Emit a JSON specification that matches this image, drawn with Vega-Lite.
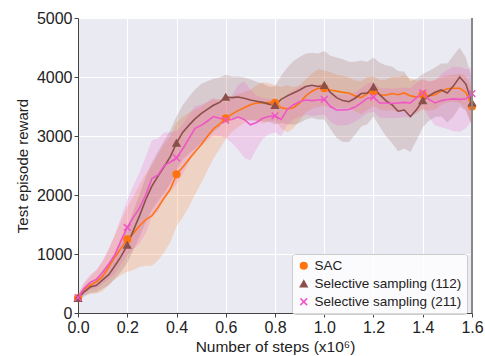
{
"$schema": "https://vega.github.io/schema/vega-lite/v6.json",
"width": 394, "height": 295,
"autosize": {"type": "none"},
"padding": {"left": 78, "top": 18, "right": 13, "bottom": 43},
"title": {"text": "(b)", "fontSize": 17, "font": "Liberation Sans", "fontWeight": "normal", "offset": 9, "color": "#222222", "anchor": "middle"},
"config": {
  "view": {"fill": "#EAEAF2", "stroke": null},
  "font": "Liberation Sans",
  "axis": {"gridColor": "#ffffff", "gridWidth": 1, "gridOpacity": 1, "domainColor": "#444444", "tickColor": "#444444", "tickSize": 4, "labelFontSize": 16, "labelColor": "#222222", "titleFontSize": 15, "titleFontWeight": "normal", "titleColor": "#222222", "labelFont": "Liberation Sans", "titleFont": "Liberation Sans"}
},
"data": {"values": [
{"x":0,"series":"SAC","reward":250,"lo":190,"hi":310},
{"x":0.025,"series":"SAC","reward":400,"lo":300,"hi":500},
{"x":0.05,"series":"SAC","reward":470,"lo":320,"hi":620},
{"x":0.075,"series":"SAC","reward":530,"lo":330,"hi":730},
{"x":0.1,"series":"SAC","reward":620,"lo":370,"hi":870},
{"x":0.125,"series":"SAC","reward":780,"lo":480,"hi":1080},
{"x":0.15,"series":"SAC","reward":950,"lo":570,"hi":1330},
{"x":0.175,"series":"SAC","reward":1100,"lo":650,"hi":1550},
{"x":0.2,"series":"SAC","reward":1250,"lo":700,"hi":1800},
{"x":0.225,"series":"SAC","reward":1350,"lo":730,"hi":1970},
{"x":0.25,"series":"SAC","reward":1480,"lo":780,"hi":2180},
{"x":0.275,"series":"SAC","reward":1580,"lo":800,"hi":2360},
{"x":0.3,"series":"SAC","reward":1650,"lo":800,"hi":2500},
{"x":0.325,"series":"SAC","reward":1790,"lo":890,"hi":2690},
{"x":0.35,"series":"SAC","reward":1950,"lo":1030,"hi":2870},
{"x":0.375,"series":"SAC","reward":2100,"lo":1200,"hi":3000},
{"x":0.4,"series":"SAC","reward":2350,"lo":1470,"hi":3230},
{"x":0.425,"series":"SAC","reward":2470,"lo":1620,"hi":3320},
{"x":0.45,"series":"SAC","reward":2600,"lo":1800,"hi":3400},
{"x":0.475,"series":"SAC","reward":2730,"lo":2010,"hi":3450},
{"x":0.5,"series":"SAC","reward":2850,"lo":2200,"hi":3500},
{"x":0.525,"series":"SAC","reward":2990,"lo":2410,"hi":3570},
{"x":0.55,"series":"SAC","reward":3120,"lo":2620,"hi":3620},
{"x":0.575,"series":"SAC","reward":3200,"lo":2780,"hi":3620},
{"x":0.6,"series":"SAC","reward":3300,"lo":2950,"hi":3650},
{"x":0.625,"series":"SAC","reward":3370,"lo":3070,"hi":3670},
{"x":0.65,"series":"SAC","reward":3430,"lo":3150,"hi":3710},
{"x":0.675,"series":"SAC","reward":3480,"lo":3220,"hi":3740},
{"x":0.7,"series":"SAC","reward":3530,"lo":3280,"hi":3780},
{"x":0.725,"series":"SAC","reward":3560,"lo":3260,"hi":3860},
{"x":0.75,"series":"SAC","reward":3560,"lo":3210,"hi":3910},
{"x":0.775,"series":"SAC","reward":3570,"lo":3240,"hi":3900},
{"x":0.8,"series":"SAC","reward":3560,"lo":3260,"hi":3860},
{"x":0.825,"series":"SAC","reward":3480,"lo":3130,"hi":3830},
{"x":0.85,"series":"SAC","reward":3460,"lo":3060,"hi":3860},
{"x":0.875,"series":"SAC","reward":3480,"lo":3130,"hi":3830},
{"x":0.9,"series":"SAC","reward":3560,"lo":3260,"hi":3860},
{"x":0.925,"series":"SAC","reward":3680,"lo":3400,"hi":3960},
{"x":0.95,"series":"SAC","reward":3760,"lo":3460,"hi":4060},
{"x":0.975,"series":"SAC","reward":3810,"lo":3490,"hi":4130},
{"x":1.0,"series":"SAC","reward":3810,"lo":3510,"hi":4110},
{"x":1.025,"series":"SAC","reward":3780,"lo":3480,"hi":4080},
{"x":1.05,"series":"SAC","reward":3760,"lo":3480,"hi":4040},
{"x":1.075,"series":"SAC","reward":3740,"lo":3460,"hi":4020},
{"x":1.1,"series":"SAC","reward":3730,"lo":3470,"hi":3990},
{"x":1.125,"series":"SAC","reward":3680,"lo":3420,"hi":3940},
{"x":1.15,"series":"SAC","reward":3650,"lo":3370,"hi":3930},
{"x":1.175,"series":"SAC","reward":3720,"lo":3440,"hi":4000},
{"x":1.2,"series":"SAC","reward":3760,"lo":3510,"hi":4010},
{"x":1.225,"series":"SAC","reward":3700,"lo":3450,"hi":3950},
{"x":1.25,"series":"SAC","reward":3690,"lo":3430,"hi":3950},
{"x":1.275,"series":"SAC","reward":3720,"lo":3440,"hi":4000},
{"x":1.3,"series":"SAC","reward":3700,"lo":3400,"hi":4000},
{"x":1.325,"series":"SAC","reward":3730,"lo":3430,"hi":4030},
{"x":1.35,"series":"SAC","reward":3680,"lo":3380,"hi":3980},
{"x":1.375,"series":"SAC","reward":3660,"lo":3380,"hi":3940},
{"x":1.4,"series":"SAC","reward":3700,"lo":3450,"hi":3950},
{"x":1.425,"series":"SAC","reward":3680,"lo":3430,"hi":3930},
{"x":1.45,"series":"SAC","reward":3700,"lo":3450,"hi":3950},
{"x":1.475,"series":"SAC","reward":3760,"lo":3530,"hi":3990},
{"x":1.5,"series":"SAC","reward":3800,"lo":3570,"hi":4030},
{"x":1.525,"series":"SAC","reward":3810,"lo":3580,"hi":4040},
{"x":1.55,"series":"SAC","reward":3810,"lo":3560,"hi":4060},
{"x":1.575,"series":"SAC","reward":3740,"lo":3460,"hi":4020},
{"x":1.6,"series":"SAC","reward":3500,"lo":3200,"hi":3800},
{"x":0,"series":"Selective sampling (112)","reward":250,"lo":190,"hi":310},
{"x":0.025,"series":"Selective sampling (112)","reward":360,"lo":280,"hi":440},
{"x":0.05,"series":"Selective sampling (112)","reward":440,"lo":340,"hi":540},
{"x":0.075,"series":"Selective sampling (112)","reward":470,"lo":350,"hi":590},
{"x":0.1,"series":"Selective sampling (112)","reward":560,"lo":410,"hi":710},
{"x":0.125,"series":"Selective sampling (112)","reward":650,"lo":470,"hi":830},
{"x":0.15,"series":"Selective sampling (112)","reward":800,"lo":580,"hi":1020},
{"x":0.175,"series":"Selective sampling (112)","reward":960,"lo":700,"hi":1220},
{"x":0.2,"series":"Selective sampling (112)","reward":1150,"lo":850,"hi":1450},
{"x":0.225,"series":"Selective sampling (112)","reward":1400,"lo":1070,"hi":1730},
{"x":0.25,"series":"Selective sampling (112)","reward":1650,"lo":1290,"hi":2010},
{"x":0.275,"series":"Selective sampling (112)","reward":1920,"lo":1540,"hi":2300},
{"x":0.3,"series":"Selective sampling (112)","reward":2150,"lo":1750,"hi":2550},
{"x":0.325,"series":"Selective sampling (112)","reward":2320,"lo":1900,"hi":2740},
{"x":0.35,"series":"Selective sampling (112)","reward":2480,"lo":2040,"hi":2920},
{"x":0.375,"series":"Selective sampling (112)","reward":2650,"lo":2200,"hi":3100},
{"x":0.4,"series":"Selective sampling (112)","reward":2880,"lo":2430,"hi":3330},
{"x":0.425,"series":"Selective sampling (112)","reward":3060,"lo":2600,"hi":3520},
{"x":0.45,"series":"Selective sampling (112)","reward":3180,"lo":2700,"hi":3660},
{"x":0.475,"series":"Selective sampling (112)","reward":3290,"lo":2790,"hi":3790},
{"x":0.5,"series":"Selective sampling (112)","reward":3380,"lo":2880,"hi":3880},
{"x":0.525,"series":"Selective sampling (112)","reward":3450,"lo":2970,"hi":3930},
{"x":0.55,"series":"Selective sampling (112)","reward":3520,"lo":3070,"hi":3970},
{"x":0.575,"series":"Selective sampling (112)","reward":3570,"lo":3150,"hi":3990},
{"x":0.6,"series":"Selective sampling (112)","reward":3660,"lo":3280,"hi":4040},
{"x":0.625,"series":"Selective sampling (112)","reward":3650,"lo":3290,"hi":4010},
{"x":0.65,"series":"Selective sampling (112)","reward":3660,"lo":3310,"hi":4010},
{"x":0.675,"series":"Selective sampling (112)","reward":3640,"lo":3290,"hi":3990},
{"x":0.7,"series":"Selective sampling (112)","reward":3610,"lo":3260,"hi":3960},
{"x":0.725,"series":"Selective sampling (112)","reward":3590,"lo":3260,"hi":3920},
{"x":0.75,"series":"Selective sampling (112)","reward":3570,"lo":3250,"hi":3890},
{"x":0.775,"series":"Selective sampling (112)","reward":3540,"lo":3240,"hi":3840},
{"x":0.8,"series":"Selective sampling (112)","reward":3520,"lo":3200,"hi":3840},
{"x":0.825,"series":"Selective sampling (112)","reward":3620,"lo":3220,"hi":4020},
{"x":0.85,"series":"Selective sampling (112)","reward":3680,"lo":3200,"hi":4160},
{"x":0.875,"series":"Selective sampling (112)","reward":3730,"lo":3190,"hi":4270},
{"x":0.9,"series":"Selective sampling (112)","reward":3780,"lo":3220,"hi":4340},
{"x":0.925,"series":"Selective sampling (112)","reward":3840,"lo":3280,"hi":4400},
{"x":0.95,"series":"Selective sampling (112)","reward":3860,"lo":3310,"hi":4410},
{"x":0.975,"series":"Selective sampling (112)","reward":3840,"lo":3280,"hi":4400},
{"x":1.0,"series":"Selective sampling (112)","reward":3860,"lo":3280,"hi":4440},
{"x":1.025,"series":"Selective sampling (112)","reward":3740,"lo":3120,"hi":4360},
{"x":1.05,"series":"Selective sampling (112)","reward":3650,"lo":2970,"hi":4330},
{"x":1.075,"series":"Selective sampling (112)","reward":3600,"lo":2900,"hi":4300},
{"x":1.1,"series":"Selective sampling (112)","reward":3580,"lo":2900,"hi":4260},
{"x":1.125,"series":"Selective sampling (112)","reward":3640,"lo":3020,"hi":4260},
{"x":1.15,"series":"Selective sampling (112)","reward":3720,"lo":3160,"hi":4280},
{"x":1.175,"series":"Selective sampling (112)","reward":3730,"lo":3200,"hi":4260},
{"x":1.2,"series":"Selective sampling (112)","reward":3830,"lo":3330,"hi":4330},
{"x":1.225,"series":"Selective sampling (112)","reward":3700,"lo":3160,"hi":4240},
{"x":1.25,"series":"Selective sampling (112)","reward":3600,"lo":3000,"hi":4200},
{"x":1.275,"series":"Selective sampling (112)","reward":3530,"lo":2880,"hi":4180},
{"x":1.3,"series":"Selective sampling (112)","reward":3420,"lo":2740,"hi":4100},
{"x":1.325,"series":"Selective sampling (112)","reward":3440,"lo":2790,"hi":4090},
{"x":1.35,"series":"Selective sampling (112)","reward":3330,"lo":2730,"hi":3930},
{"x":1.375,"series":"Selective sampling (112)","reward":3450,"lo":2930,"hi":3970},
{"x":1.4,"series":"Selective sampling (112)","reward":3600,"lo":3150,"hi":4050},
{"x":1.425,"series":"Selective sampling (112)","reward":3680,"lo":3260,"hi":4100},
{"x":1.45,"series":"Selective sampling (112)","reward":3740,"lo":3320,"hi":4160},
{"x":1.475,"series":"Selective sampling (112)","reward":3780,"lo":3330,"hi":4230},
{"x":1.5,"series":"Selective sampling (112)","reward":3730,"lo":3230,"hi":4230},
{"x":1.525,"series":"Selective sampling (112)","reward":3850,"lo":3330,"hi":4370},
{"x":1.55,"series":"Selective sampling (112)","reward":4000,"lo":3500,"hi":4500},
{"x":1.575,"series":"Selective sampling (112)","reward":3880,"lo":3430,"hi":4330},
{"x":1.6,"series":"Selective sampling (112)","reward":3560,"lo":3160,"hi":3960},
{"x":0,"series":"Selective sampling (211)","reward":260,"lo":200,"hi":320},
{"x":0.025,"series":"Selective sampling (211)","reward":420,"lo":320,"hi":520},
{"x":0.05,"series":"Selective sampling (211)","reward":520,"lo":390,"hi":650},
{"x":0.075,"series":"Selective sampling (211)","reward":570,"lo":410,"hi":730},
{"x":0.1,"series":"Selective sampling (211)","reward":690,"lo":490,"hi":890},
{"x":0.125,"series":"Selective sampling (211)","reward":830,"lo":570,"hi":1090},
{"x":0.15,"series":"Selective sampling (211)","reward":990,"lo":660,"hi":1320},
{"x":0.175,"series":"Selective sampling (211)","reward":1230,"lo":830,"hi":1630},
{"x":0.2,"series":"Selective sampling (211)","reward":1450,"lo":980,"hi":1920},
{"x":0.225,"series":"Selective sampling (211)","reward":1620,"lo":1080,"hi":2160},
{"x":0.25,"series":"Selective sampling (211)","reward":1780,"lo":1180,"hi":2380},
{"x":0.275,"series":"Selective sampling (211)","reward":2000,"lo":1350,"hi":2650},
{"x":0.3,"series":"Selective sampling (211)","reward":2280,"lo":1630,"hi":2930},
{"x":0.325,"series":"Selective sampling (211)","reward":2340,"lo":1720,"hi":2960},
{"x":0.35,"series":"Selective sampling (211)","reward":2500,"lo":1940,"hi":3060},
{"x":0.375,"series":"Selective sampling (211)","reward":2560,"lo":2060,"hi":3060},
{"x":0.4,"series":"Selective sampling (211)","reward":2630,"lo":2180,"hi":3080},
{"x":0.425,"series":"Selective sampling (211)","reward":2780,"lo":2360,"hi":3200},
{"x":0.45,"series":"Selective sampling (211)","reward":2950,"lo":2550,"hi":3350},
{"x":0.475,"series":"Selective sampling (211)","reward":3130,"lo":2750,"hi":3510},
{"x":0.5,"series":"Selective sampling (211)","reward":3180,"lo":2830,"hi":3530},
{"x":0.525,"series":"Selective sampling (211)","reward":3250,"lo":2920,"hi":3580},
{"x":0.55,"series":"Selective sampling (211)","reward":3330,"lo":3010,"hi":3650},
{"x":0.575,"series":"Selective sampling (211)","reward":3300,"lo":3000,"hi":3600},
{"x":0.6,"series":"Selective sampling (211)","reward":3270,"lo":2970,"hi":3570},
{"x":0.625,"series":"Selective sampling (211)","reward":3280,"lo":2880,"hi":3680},
{"x":0.65,"series":"Selective sampling (211)","reward":3320,"lo":2770,"hi":3870},
{"x":0.675,"series":"Selective sampling (211)","reward":3280,"lo":2630,"hi":3930},
{"x":0.7,"series":"Selective sampling (211)","reward":3190,"lo":2590,"hi":3790},
{"x":0.725,"series":"Selective sampling (211)","reward":3230,"lo":2780,"hi":3680},
{"x":0.75,"series":"Selective sampling (211)","reward":3300,"lo":2950,"hi":3650},
{"x":0.775,"series":"Selective sampling (211)","reward":3330,"lo":3030,"hi":3630},
{"x":0.8,"series":"Selective sampling (211)","reward":3340,"lo":3060,"hi":3620},
{"x":0.825,"series":"Selective sampling (211)","reward":3280,"lo":3000,"hi":3560},
{"x":0.85,"series":"Selective sampling (211)","reward":3450,"lo":3190,"hi":3710},
{"x":0.875,"series":"Selective sampling (211)","reward":3530,"lo":3280,"hi":3780},
{"x":0.9,"series":"Selective sampling (211)","reward":3580,"lo":3330,"hi":3830},
{"x":0.925,"series":"Selective sampling (211)","reward":3610,"lo":3360,"hi":3860},
{"x":0.95,"series":"Selective sampling (211)","reward":3600,"lo":3340,"hi":3860},
{"x":0.975,"series":"Selective sampling (211)","reward":3610,"lo":3350,"hi":3870},
{"x":1.0,"series":"Selective sampling (211)","reward":3620,"lo":3360,"hi":3880},
{"x":1.025,"series":"Selective sampling (211)","reward":3500,"lo":3240,"hi":3760},
{"x":1.05,"series":"Selective sampling (211)","reward":3440,"lo":3180,"hi":3700},
{"x":1.075,"series":"Selective sampling (211)","reward":3440,"lo":3180,"hi":3700},
{"x":1.1,"series":"Selective sampling (211)","reward":3450,"lo":3190,"hi":3710},
{"x":1.125,"series":"Selective sampling (211)","reward":3490,"lo":3240,"hi":3740},
{"x":1.15,"series":"Selective sampling (211)","reward":3560,"lo":3310,"hi":3810},
{"x":1.175,"series":"Selective sampling (211)","reward":3640,"lo":3390,"hi":3890},
{"x":1.2,"series":"Selective sampling (211)","reward":3660,"lo":3410,"hi":3910},
{"x":1.225,"series":"Selective sampling (211)","reward":3560,"lo":3310,"hi":3810},
{"x":1.25,"series":"Selective sampling (211)","reward":3560,"lo":3310,"hi":3810},
{"x":1.275,"series":"Selective sampling (211)","reward":3550,"lo":3300,"hi":3800},
{"x":1.3,"series":"Selective sampling (211)","reward":3560,"lo":3310,"hi":3810},
{"x":1.325,"series":"Selective sampling (211)","reward":3570,"lo":3320,"hi":3820},
{"x":1.35,"series":"Selective sampling (211)","reward":3560,"lo":3310,"hi":3810},
{"x":1.375,"series":"Selective sampling (211)","reward":3650,"lo":3400,"hi":3900},
{"x":1.4,"series":"Selective sampling (211)","reward":3730,"lo":3480,"hi":3980},
{"x":1.425,"series":"Selective sampling (211)","reward":3620,"lo":3320,"hi":3920},
{"x":1.45,"series":"Selective sampling (211)","reward":3560,"lo":3180,"hi":3940},
{"x":1.475,"series":"Selective sampling (211)","reward":3600,"lo":3150,"hi":4050},
{"x":1.5,"series":"Selective sampling (211)","reward":3620,"lo":3120,"hi":4120},
{"x":1.525,"series":"Selective sampling (211)","reward":3630,"lo":3080,"hi":4180},
{"x":1.55,"series":"Selective sampling (211)","reward":3620,"lo":3070,"hi":4170},
{"x":1.575,"series":"Selective sampling (211)","reward":3630,"lo":3130,"hi":4130},
{"x":1.6,"series":"Selective sampling (211)","reward":3720,"lo":3270,"hi":4170}
]},
"encoding": {
  "x": {"field": "x", "type": "quantitative", "scale": {"domain": [0, 1.6], "nice": false, "padding": 0, "zero": false}, "axis": {"values": [0, 0.2, 0.4, 0.6, 0.8, 1.0, 1.2, 1.4, 1.6], "format": ".1f", "title": "Number of steps (x10⁶)", "titlePadding": 4, "labelPadding": 2, "labelFontSize": 16, "titleFontSize": 15.5, "labelFlush": false}},
  "color": {"field": "series", "type": "nominal", "scale": {"domain": ["SAC", "Selective sampling (112)", "Selective sampling (211)"], "range": ["#ff7410", "#8c4f4a", "#f055c8"]},
    "legend": {"title": null, "orient": "none", "legendX": 214, "legendY": 236, "labelFontSize": 13.5, "labelColor": "#222222", "symbolSize": 45, "fillColor": "rgba(255,255,255,0.8)", "strokeColor": "#cccccc", "cornerRadius": 3, "padding": 5, "rowPadding": 3, "symbolStrokeWidth": 1.5, "labelFont": "Liberation Sans",
      "encode": {"symbols": {"update": {"stroke": {"scale": "color", "field": "value"}}}}}}
},
"layer": [
  {"mark": {"type": "area", "opacity": 0.2},
   "encoding": {"y": {"field": "lo", "type": "quantitative", "scale": {"domain": [0, 5000], "nice": false, "padding": 0}, "axis": {"values": [0, 1000, 2000, 3000, 4000, 5000], "format": "d", "title": "Test episode reward", "titlePadding": 6, "labelPadding": 2, "labelFontSize": 16, "titleFontSize": 15}}, "y2": {"field": "hi"}}},
  {"mark": {"type": "line", "strokeWidth": 1.6},
   "encoding": {"y": {"field": "reward", "type": "quantitative"}}},
  {"transform": [{"filter": "abs(datum.x*5 - round(datum.x*5)) < 0.001"}],
   "mark": {"type": "point", "filled": true, "size": 45, "strokeWidth": 1.5, "opacity": 1},
   "encoding": {"y": {"field": "reward", "type": "quantitative"},
     "shape": {"field": "series", "type": "nominal", "scale": {"domain": ["SAC", "Selective sampling (112)", "Selective sampling (211)"], "range": ["circle", "triangle-up", "M-1,-1L1,1M1,-1L-1,1"]},
       "legend": {"title": null, "orient": "none", "legendX": 214, "legendY": 236, "labelFontSize": 13.5, "labelColor": "#222222", "symbolSize": 45, "fillColor": "rgba(255,255,255,0.8)", "strokeColor": "#cccccc", "cornerRadius": 3, "padding": 5, "rowPadding": 3, "symbolStrokeWidth": 1.5, "labelFont": "Liberation Sans",
         "encode": {"symbols": {"update": {"stroke": {"scale": "color", "field": "value"}}}}}},
     "stroke": {"field": "series", "type": "nominal", "scale": {"domain": ["SAC", "Selective sampling (112)", "Selective sampling (211)"], "range": ["#ff7410", "#8c4f4a", "#f055c8"]}, "legend": null}}},
  {"mark": {"type": "rule", "strokeWidth": 1},
   "encoding": {"x": {"datum": 1.6}, "color": {"value": "#888888"}}}
]
}
